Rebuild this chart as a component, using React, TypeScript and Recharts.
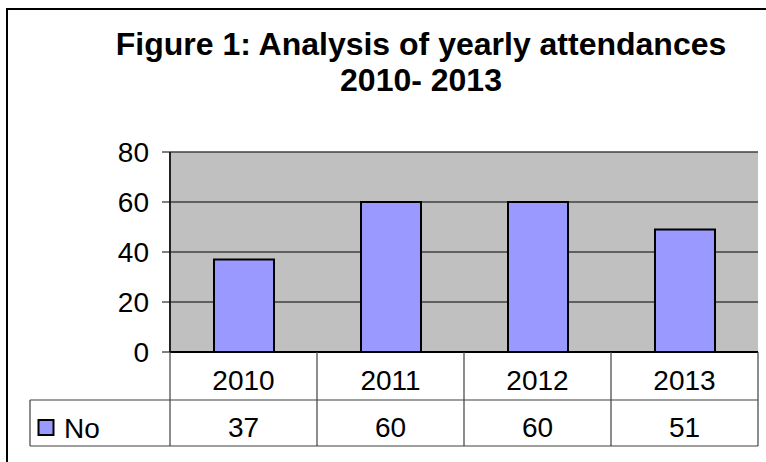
import React from 'react';
import { BarChart, Bar, XAxis, YAxis, CartesianGrid } from 'recharts';

// values
const years = ['2010', '2011', '2012', '2013'];
const attendance = [37, 60, 60, 49];
const tableValues = [37, 60, 60, 51];
const yTicks = [0, 20, 40, 60, 80];
const seriesName = 'No';

const data = years.map((year, i) => ({ year, no: attendance[i] }));

const W = 766;
const H = 462;
const FONT = '"Liberation Sans", Arial, Helvetica, sans-serif';
const PLOT_LEFT = 170;
const PLOT_RIGHT = 758;
const PLOT_TOP = 152;
const PLOT_BOTTOM = 352;
const ROW_MID = 400;
const ROW_BOTTOM = 446;
const COL_W = (PLOT_RIGHT - PLOT_LEFT) / years.length;
const BAR_FILL = '#9999ff';
const TABLE_LINE = '#404040';

function TableTick(props: any) {
  const { x, payload, index } = props;
  const right = x + COL_W / 2;
  const left = x - COL_W / 2;
  return (
    <g>
      {index === 0 && (
        <g>
          <line x1={left} y1={PLOT_BOTTOM} x2={left} y2={ROW_BOTTOM} stroke={TABLE_LINE} strokeWidth={1.2} />
          <line x1={30} y1={ROW_MID} x2={PLOT_RIGHT} y2={ROW_MID} stroke={TABLE_LINE} strokeWidth={1.2} />
          <line x1={30} y1={ROW_BOTTOM} x2={PLOT_RIGHT} y2={ROW_BOTTOM} stroke={TABLE_LINE} strokeWidth={1.2} />
          <line x1={30} y1={ROW_MID} x2={30} y2={ROW_BOTTOM} stroke={TABLE_LINE} strokeWidth={1.2} />
          <rect x={38.5} y={420} width={15} height={15} fill={BAR_FILL} stroke="#000" strokeWidth={2} />
          <text x={64} y={438} fontSize={28} fontFamily={FONT} fill="#000">{seriesName}</text>
        </g>
      )}
      <line x1={right} y1={PLOT_BOTTOM} x2={right} y2={ROW_BOTTOM} stroke={TABLE_LINE} strokeWidth={1.2} />
      <text x={x} y={390} textAnchor="middle" fontSize={28} fontFamily={FONT} fill="#000">{payload.value}</text>
      <text x={x} y={437} textAnchor="middle" fontSize={28} fontFamily={FONT} fill="#000">{tableValues[index]}</text>
    </g>
  );
}

export default function App() {
  return (
    <div style={{ position: 'absolute', left: 0, top: 0, width: W, height: H, overflow: 'hidden', background: '#fff' }}>
      {/* chart frame, runs off the right and bottom edges */}
      <div style={{ position: 'absolute', left: 6, top: 8, width: 800, height: 500, border: '2px solid #000' }} />
      <svg width={W} height={120} style={{ position: 'absolute', left: 0, top: 0 }}>
        <text x={421} y={55} textAnchor="middle" fontSize={32} fontWeight="bold" fontFamily={FONT} fill="#000">
          Figure 1: Analysis of yearly attendances
        </text>
        <text x={421} y={91} textAnchor="middle" fontSize={32} fontWeight="bold" fontFamily={FONT} fill="#000">
          2010- 2013
        </text>
      </svg>
      <div style={{ position: 'absolute', left: 0, top: 0 }}>
        <BarChart width={W} height={H} data={data} margin={{ top: PLOT_TOP, right: W - PLOT_RIGHT, bottom: 0, left: 0 }}>
          <CartesianGrid vertical={false} fill="#c0c0c0" stroke="#404040" strokeWidth={1.5} />
          <XAxis
            dataKey="year"
            height={H - PLOT_BOTTOM}
            axisLine={{ stroke: '#000', strokeWidth: 2 }}
            tickLine={false}
            tick={<TableTick />}
            interval={0}
          />
          <XAxis xAxisId="top" orientation="top" dataKey="year" height={0} tick={false} tickLine={false} axisLine={{ stroke: '#808080', strokeWidth: 2 }} />
          <YAxis
            width={PLOT_LEFT}
            domain={[0, 80]}
            ticks={yTicks}
            interval={0}
            tickSize={8}
            tickMargin={13}
            axisLine={{ stroke: '#222', strokeWidth: 2 }}
            tickLine={{ stroke: '#000' }}
            tick={{ fontSize: 28, fill: '#000', fontFamily: FONT }}
          />
          <YAxis yAxisId="right" orientation="right" width={0} tick={false} tickLine={false} axisLine={{ stroke: '#808080', strokeWidth: 2 }} />
          <Bar dataKey="no" name={seriesName} fill={BAR_FILL} stroke="#000" strokeWidth={2} barSize={60} isAnimationActive={false} />
        </BarChart>
      </div>
    </div>
  );
}
